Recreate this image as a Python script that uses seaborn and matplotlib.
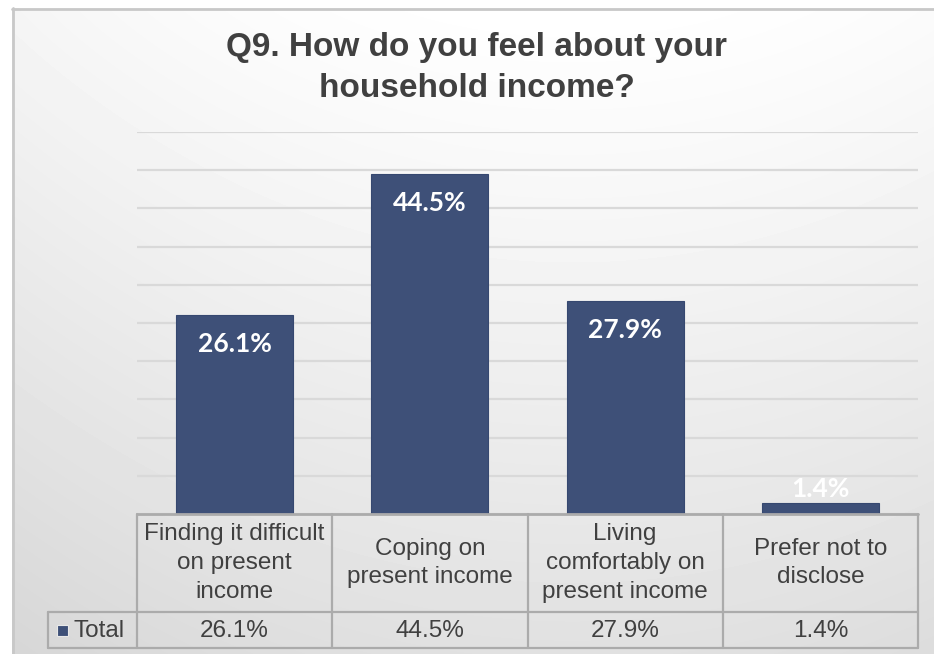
import numpy as np
import pandas as pd
import matplotlib
matplotlib.use("Agg")
import matplotlib.pyplot as plt
import matplotlib.transforms as mtransforms
from matplotlib.patches import Rectangle
from matplotlib.lines import Line2D
import seaborn as sns

# ---- data ----
title = "Q9. How do you feel about your\nhousehold income?"
categories = [
    "Finding it difficult\non present\nincome",
    "Coping on\npresent income",
    "Living\ncomfortably on\npresent income",
    "Prefer not to\ndisclose",
]
values = [26.1, 44.5, 27.9, 1.4]
series_name = "Total"
y_max = 50
y_step = 5

# ---- style ----
BAR = "#3E5078"
TEXT = "#404040"
GRID = "#D9D9D9"
RULE = "#ABABAB"
BORDER = "#C8C8C8"

sns.set_theme(style="white")
plt.rcParams["font.family"] = ["Liberation Sans", "DejaVu Sans"]

W, H = 934, 654
fig = plt.figure(figsize=(W / 100, H / 100), dpi=100)
fig.patch.set_facecolor("white")

# chart area with a soft shading, light at the top, grey towards the bottom
bg = fig.add_axes([12 / W, 0, 1 - 12 / W, 1 - 8 / H])
yy, xx = np.mgrid[0:646, 0:922]
shade = 1 - 0.12 * (yy / 646) ** 1.1 - 0.04 * (np.abs(xx - 560) / 560) ** 2
shade = np.clip(shade, 0.84, 1.0)
bg.imshow(shade, cmap="gray", vmin=0, vmax=1, aspect="auto",
          extent=[0, 1, 0, 1], origin="upper", interpolation="bilinear")
bg.set_xlim(0, 1)
bg.set_ylim(0, 1)
bg.set_axis_off()
fig.add_artist(Line2D([12.5 / W, 12.5 / W], [0, 1 - 8 / H], color=BORDER, lw=2,
                      transform=fig.transFigure))
fig.add_artist(Line2D([12 / W, 1], [1 - 8.5 / H, 1 - 8.5 / H], color=BORDER, lw=2,
                      transform=fig.transFigure))

# title
fig.text(477 / W, 1 - 68 / H, title, ha="center", va="center", color=TEXT,
         fontsize=24, fontweight="bold", linespacing=1.4)

# plot area
left_px, right_px, top_px, base_px = 137, 918, 132, 514
ax = fig.add_axes([left_px / W, 1 - base_px / H,
                   (right_px - left_px) / W, (base_px - top_px) / H])
ax.patch.set_alpha(0)

df = pd.DataFrame({"category": categories, "value": values})
sns.barplot(data=df, x="category", y="value", color=BAR, saturation=1,
            width=0.6, ax=ax, zorder=3, edgecolor="#364870", linewidth=0.8)

ax.set_ylim(0, y_max)
ax.set_xlim(-0.5, len(categories) - 0.5)
ax.set_yticks(np.arange(0, y_max + y_step / 2, y_step))
ax.yaxis.grid(True, color=GRID, lw=1.6)
ax.set_axisbelow(True)
ax.tick_params(left=False, bottom=False, labelleft=False, labelbottom=False)
ax.set_xlabel("")
ax.set_ylabel("")
for s in ax.spines.values():
    s.set_visible(False)
ax.axhline(0, color=RULE, lw=2, zorder=4, clip_on=False)

# value labels on the bars
for bar, v in zip(ax.patches, values):
    bx = bar.get_x() + bar.get_width() / 2
    dy = -29 if v > 5 else 14
    ax.annotate(f"{v:.1f}%", (bx, v), xytext=(0, dy), textcoords="offset pixels",
                ha="center", va="center", color="white", fontsize=19,
                fontweight="bold", family=["Lato", "DejaVu Sans"], zorder=5)

# data table under the axis
unit_px = (right_px - left_px) / len(categories)


def col_x(px):
    return -0.5 + (px - left_px) / unit_px


def row_y(py):
    return (base_px - py) / (base_px - top_px)


tr = mtransforms.blended_transform_factory(ax.transData, ax.transAxes)
y_head = row_y(612)
y_bot = row_y(648)
x_leg = col_x(48)
x_end = len(categories) - 0.5
line_kw = dict(color=RULE, lw=1.6, transform=tr, clip_on=False, zorder=4)

for i in range(len(categories) + 1):
    xb = i - 0.5
    ax.add_line(Line2D([xb, xb], [0, y_bot], **line_kw))
ax.add_line(Line2D([x_leg, x_end], [y_head, y_head], **line_kw))
ax.add_line(Line2D([x_leg, x_end], [y_bot, y_bot], **line_kw))
ax.add_line(Line2D([x_leg, x_leg], [y_head, y_bot], **line_kw))

for i, (cat, v) in enumerate(zip(categories, values)):
    ax.text(i, row_y(563), cat, transform=tr, ha="center", va="center",
            color=TEXT, fontsize=17.5, linespacing=1.4, clip_on=False)
    ax.text(i, row_y(631), f"{v:.1f}%", transform=tr, ha="center", va="center",
            color=TEXT, fontsize=17.5, clip_on=False)

# legend key in the table's first column
ax.add_patch(Rectangle((col_x(57), row_y(636)), col_x(68) - col_x(57),
                       row_y(625) - row_y(636), transform=tr, clip_on=False,
                       facecolor=BAR, edgecolor="#E8E8E8", lw=0.8, zorder=5))
ax.text(col_x(74), row_y(631), series_name, transform=tr, ha="left", va="center",
        color=TEXT, fontsize=17.5, clip_on=False)

fig.savefig("out.png", dpi=100)
